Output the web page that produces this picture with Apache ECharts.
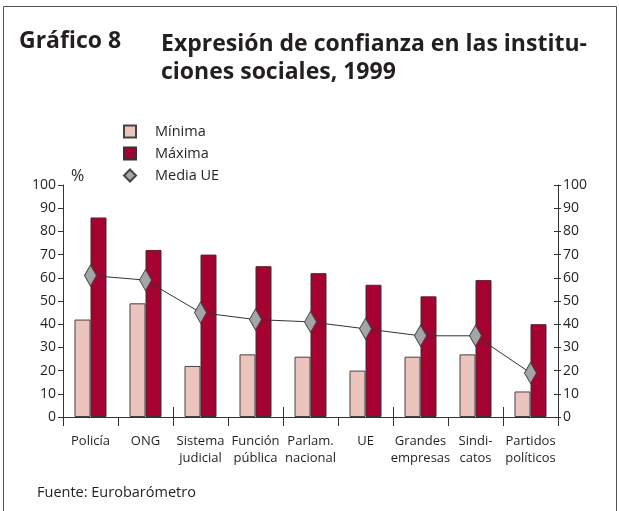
<!DOCTYPE html>
<html>
<head>
<meta charset="utf-8">
<script src="https://cdn.jsdelivr.net/npm/echarts@6/dist/echarts.min.js"></script>
<style>
html,body{margin:0;padding:0;background:#fff;}
#chart{width:619px;height:511px;}
</style>
</head>
<body>
<div id="chart"></div>
<script>
const categories = ['Policía', 'ONG', 'Sistema\njudicial', 'Función\npública', 'Parlam.\nnacional', 'UE', 'Grandes\nempresas', 'Sindi-\ncatos', 'Partidos\npolíticos'];
const minima = [42, 49, 22, 27, 26, 20, 26, 27, 11];
const maxima = [86, 72, 70, 65, 62, 57, 52, 59, 40];
const mediaUE = [61, 59, 45, 42, 41, 38, 35, 35, 19];
const yTicks = [0, 10, 20, 30, 40, 50, 60, 70, 80, 90, 100];

const FONT = '"Open Sans", sans-serif';
const TXT = '#231f20';

const chart = echarts.init(document.getElementById('chart'), null, {renderer: 'canvas'});

const baseY = {
  type: 'value', min: yTicks[0], max: yTicks[yTicks.length - 1], interval: 10,
  splitLine: {show: false},
  axisLine: {show: true, lineStyle: {color: '#333', width: 1}},
  axisTick: {show: true, lineStyle: {color: '#333', width: 1}}
};

chart.setOption({
  animation: false,
  backgroundColor: '#fff',
  textStyle: {fontFamily: FONT, color: TXT},
  title: [
    {text: 'Gráfico 8', left: 19, top: 30, padding: 0, textStyle: {fontFamily: FONT, fontWeight: 'bold', fontSize: 23, color: TXT}},
    {text: 'Expresión de confianza en las institu-\nciones sociales, 1999', left: 161, top: 30, padding: 0,
     textStyle: {fontFamily: FONT, fontWeight: 'bold', fontSize: 23, lineHeight: 28, color: TXT}},
    {text: 'Fuente: Eurobarómetro', left: 37, top: 485, padding: 0, textStyle: {fontFamily: FONT, fontWeight: 'normal', fontSize: 14.5, color: TXT}}
  ],
  graphic: [
    {type: 'rect', shape: {x: 3.5, y: 6.5, width: 613, height: 520}, style: {fill: 'none', stroke: '#555', lineWidth: 1}, silent: true},
    {type: 'text', left: 71, top: 168, style: {text: '%', font: '16px "Open Sans", sans-serif', fill: TXT}}
  ],
  legend: {
    orient: 'vertical', left: 118, top: 119,
    itemWidth: 12, itemHeight: 12, itemGap: 7,
    textStyle: {fontFamily: FONT, fontSize: 14.5, color: TXT, padding: [0, 0, 0, 14]},
    data: [
      {name: 'Mínima', icon: 'rect'},
      {name: 'Máxima', icon: 'rect'},
      {name: 'Media UE', icon: 'diamond'}
    ]
  },
  grid: {left: 63, right: 61, top: 185, bottom: 94, containLabel: false},
  xAxis: [
    {
      type: 'category', data: categories, position: 'bottom',
      axisLine: {show: true, lineStyle: {color: '#333', width: 1}},
      axisTick: {show: true, length: 9, inside: false, lineStyle: {color: '#333'}},
      axisLabel: {interval: 0, margin: 16, fontFamily: FONT, fontSize: 13, lineHeight: 17, color: TXT}
    },
    {
      type: 'category', data: categories, position: 'bottom', gridIndex: 0,
      axisLine: {show: false},
      axisTick: {show: true, length: 10, inside: true, lineStyle: {color: '#333'}},
      axisLabel: {show: false}
    }
  ],
  yAxis: [
    Object.assign({}, baseY, {position: 'left',
      axisTick: {show: true, length: 5, lineStyle: {color: '#333'}},
      axisLabel: {margin: 7, fontFamily: FONT, fontSize: 14, color: TXT}}),
    Object.assign({}, baseY, {position: 'right',
      axisTick: {show: true, length: 3, lineStyle: {color: '#333'}},
      axisLabel: {margin: 5, fontFamily: FONT, fontSize: 14, color: TXT}}),
    Object.assign({}, baseY, {position: 'right',
      axisLine: {show: false},
      axisTick: {show: true, length: 4, inside: true, lineStyle: {color: '#333'}},
      axisLabel: {show: false}})
  ],
  series: [
    {name: 'Mínima', type: 'bar', data: minima, barWidth: 16, barGap: '0%',
     itemStyle: {color: '#eac4bd', borderColor: '#444', borderWidth: 1}},
    {name: 'Máxima', type: 'bar', data: maxima, barWidth: 16, barGap: '0%',
     itemStyle: {color: '#a50232', borderColor: '#333', borderWidth: 1}},
    {name: 'Media UE', type: 'line', data: mediaUE, symbol: 'diamond', symbolSize: [12, 21],
     lineStyle: {color: '#333', width: 1},
     itemStyle: {color: '#a3a5a8', borderColor: '#444', borderWidth: 1}, z: 5}
  ]
});
</script>
</body>
</html>
